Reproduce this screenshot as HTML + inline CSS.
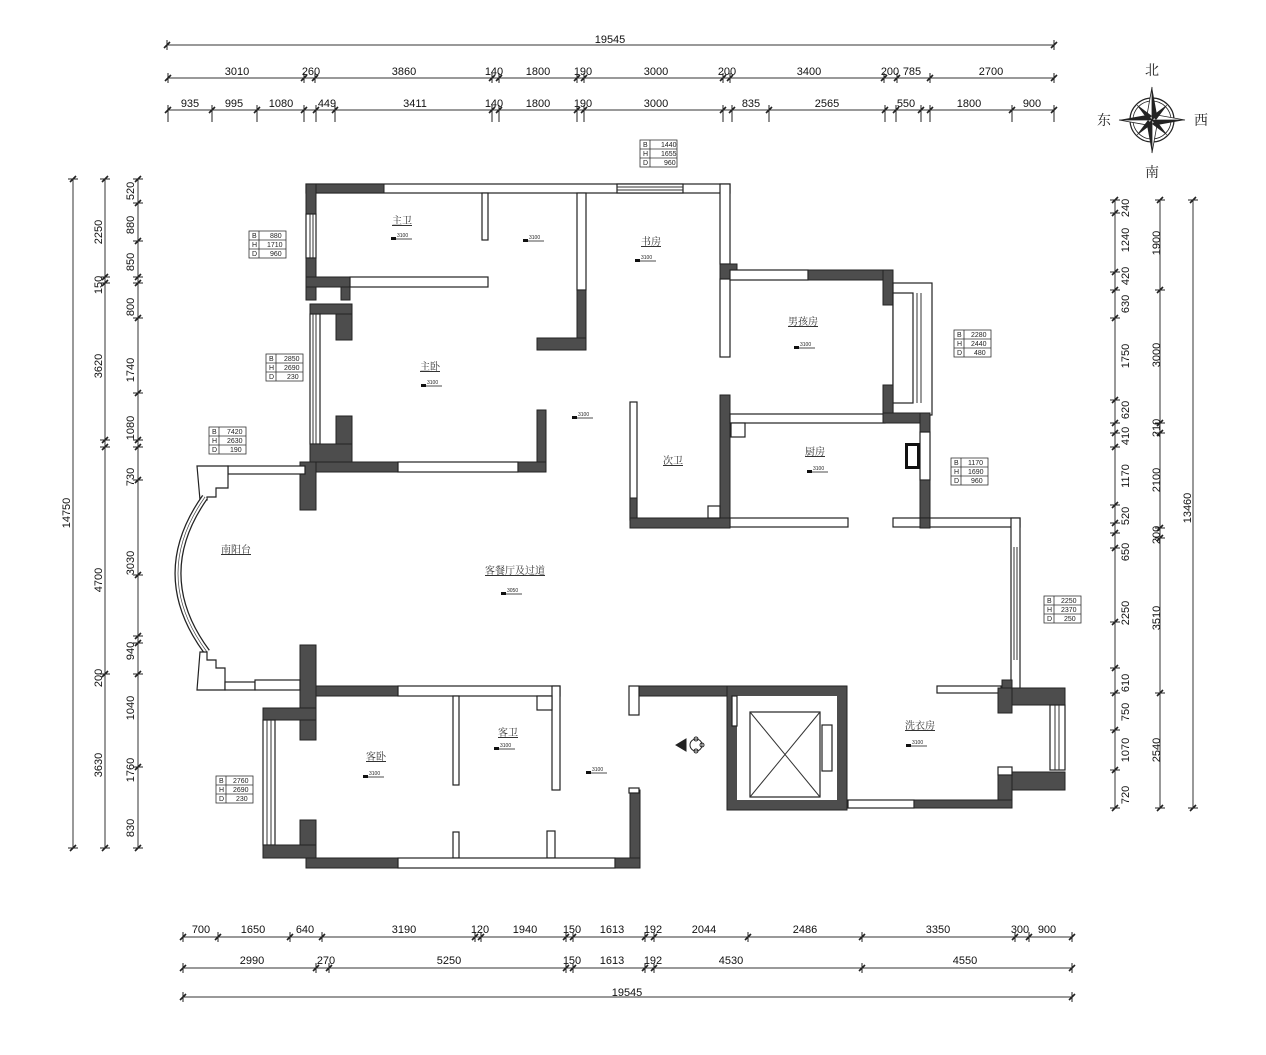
<!DOCTYPE html>
<html><head><meta charset="utf-8"><style>
html,body{margin:0;padding:0;background:#fff;}
svg{display:block}
.d{font-family:"Liberation Sans Narrow","Liberation Sans",sans-serif;font-size:11px;fill:#111;text-anchor:middle}
.r{font-family:"Liberation Serif","Noto Serif CJK SC",serif;font-size:10px;fill:#333;text-anchor:middle;text-decoration:underline}
.e{font-family:"Liberation Sans",sans-serif;font-size:5px;fill:#222}
.t{font-family:"Liberation Sans",sans-serif;font-size:7px;fill:#222}
.w{fill:#fff;stroke:#222;stroke-width:1.2}
.k{fill:#4d4d4d;stroke:#222;stroke-width:1}
.ln{stroke:#333;stroke-width:1;fill:none}
</style></head><body>
<svg id="s" width="1266" height="1055" viewBox="0 0 1266 1055" xmlns="http://www.w3.org/2000/svg">
<g id="dims" class="ln">
<line x1="167" y1="45" x2="1054" y2="45"/>
<line x1="167" y1="78" x2="1054" y2="78"/>
<line x1="167" y1="110" x2="1054" y2="110"/>
<line x1="183" y1="937" x2="1072" y2="937"/>
<line x1="183" y1="968" x2="1072" y2="968"/>
<line x1="183" y1="997" x2="1072" y2="997"/>
<line x1="73" y1="179" x2="73" y2="848"/>
<line x1="105" y1="179" x2="105" y2="848"/>
<line x1="138" y1="179" x2="138" y2="848"/>
<line x1="1115" y1="200" x2="1115" y2="808"/>
<line x1="1160" y1="200" x2="1160" y2="808"/>
<line x1="1193" y1="200" x2="1193" y2="808"/>
</g>
<g class="d">
<text x="610" y="43">19545</text>
<text x="237" y="75">3010</text><text x="311" y="75">260</text><text x="404" y="75">3860</text><text x="494" y="75">140</text><text x="538" y="75">1800</text><text x="583" y="75">190</text><text x="656" y="75">3000</text><text x="727" y="75">200</text><text x="809" y="75">3400</text><text x="890" y="75">200</text><text x="912" y="75">785</text><text x="991" y="75">2700</text>
<text x="190" y="107">935</text><text x="234" y="107">995</text><text x="281" y="107">1080</text><text x="327" y="107">449</text><text x="415" y="107">3411</text><text x="494" y="107">140</text><text x="538" y="107">1800</text><text x="583" y="107">190</text><text x="656" y="107">3000</text><text x="751" y="107">835</text><text x="827" y="107">2565</text><text x="906" y="107">550</text><text x="969" y="107">1800</text><text x="1032" y="107">900</text>
<text x="201" y="933">700</text><text x="253" y="933">1650</text><text x="305" y="933">640</text><text x="404" y="933">3190</text><text x="480" y="933">120</text><text x="525" y="933">1940</text><text x="572" y="933">150</text><text x="612" y="933">1613</text><text x="653" y="933">192</text><text x="704" y="933">2044</text><text x="805" y="933">2486</text><text x="938" y="933">3350</text><text x="1020" y="933">300</text><text x="1047" y="933">900</text>
<text x="252" y="964">2990</text><text x="326" y="964">270</text><text x="449" y="964">5250</text><text x="572" y="964">150</text><text x="612" y="964">1613</text><text x="653" y="964">192</text><text x="731" y="964">4530</text><text x="965" y="964">4550</text>
<text x="627" y="996">19545</text>
<g transform="rotate(-90)">
<text x="-513" y="70">14750</text>
<text x="-232" y="102">2250</text><text x="-285" y="102">150</text><text x="-366" y="102">3620</text><text x="-580" y="102">4700</text><text x="-678" y="102">200</text><text x="-765" y="102">3630</text>
<text x="-191" y="134">520</text><text x="-225" y="134">880</text><text x="-262" y="134">850</text><text x="-307" y="134">800</text><text x="-370" y="134">1740</text><text x="-428" y="134">1080</text><text x="-477" y="134">730</text><text x="-563" y="134">3030</text><text x="-651" y="134">940</text><text x="-708" y="134">1040</text><text x="-770" y="134">1760</text><text x="-828" y="134">830</text>
<text x="-208" y="1129">240</text><text x="-240" y="1129">1240</text><text x="-276" y="1129">420</text><text x="-304" y="1129">630</text><text x="-356" y="1129">1750</text><text x="-410" y="1129">620</text><text x="-436" y="1129">410</text><text x="-476" y="1129">1170</text><text x="-516" y="1129">520</text><text x="-552" y="1129">650</text><text x="-613" y="1129">2250</text><text x="-683" y="1129">610</text><text x="-712" y="1129">750</text><text x="-750" y="1129">1070</text><text x="-795" y="1129">720</text>
<text x="-243" y="1160">1900</text><text x="-355" y="1160">3000</text><text x="-428" y="1160">210</text><text x="-480" y="1160">2100</text><text x="-535" y="1160">200</text><text x="-618" y="1160">3510</text><text x="-750" y="1160">2540</text>
<text x="-508" y="1191">13460</text>
</g>
</g>
<g id="tk"></g>

<!-- compass -->
<g transform="translate(1152,120)">
<circle r="22" fill="none" stroke="#222" stroke-width="1.2"/>
<circle r="19" fill="none" stroke="#222" stroke-width="0.8"/>
<polygon points="0,-33 5,-5 0,0" fill="#222"/><polygon points="0,-33 -5,-5 0,0" fill="#fff" stroke="#222" stroke-width=".8"/>
<polygon points="0,33 -5,5 0,0" fill="#222"/><polygon points="0,33 5,5 0,0" fill="#fff" stroke="#222" stroke-width=".8"/>
<polygon points="-33,0 -5,-5 0,0" fill="#222"/><polygon points="-33,0 -5,5 0,0" fill="#fff" stroke="#222" stroke-width=".8"/>
<polygon points="33,0 5,5 0,0" fill="#222"/><polygon points="33,0 5,-5 0,0" fill="#fff" stroke="#222" stroke-width=".8"/>
<polygon points="-16,-16 0,-4 -4,0" fill="#222"/><polygon points="16,-16 4,0 0,-4" fill="#222"/><polygon points="16,16 0,4 4,0" fill="#222"/><polygon points="-16,16 -4,0 0,4" fill="#222"/>
</g>
<g font-family="Liberation Serif,'Noto Serif CJK SC',serif" font-size="14" fill="#222" text-anchor="middle">
<text x="1152" y="75">北</text><text x="1104" y="125">东</text><text x="1201" y="125">西</text><text x="1152" y="177">南</text>
</g>

<!-- walls -->
<g>
<!-- top master wing -->
<rect class="w" x="306" y="184" width="424" height="9"/>
<rect class="k" x="306" y="184" width="78" height="9"/>
<rect class="w" x="617" y="184" width="66" height="9"/><line class="ln" x1="617" y1="187" x2="683" y2="187"/><line class="ln" x1="617" y1="190" x2="683" y2="190"/>
<rect class="k" x="306" y="184" width="10" height="30"/>
<rect class="w" x="306" y="214" width="10" height="44"/><line class="ln" x1="310" y1="214" x2="310" y2="258"/><line class="ln" x1="313" y1="214" x2="313" y2="258"/>
<rect class="k" x="306" y="258" width="10" height="42"/>
<rect class="k" x="306" y="277" width="44" height="10"/>
<rect class="w" x="350" y="277" width="138" height="10"/>
<rect class="w" x="482" y="193" width="6" height="47"/>
<rect class="w" x="577" y="193" width="9" height="97"/>
<rect class="k" x="577" y="290" width="9" height="60"/>
<rect class="k" x="537" y="338" width="49" height="12"/>
<rect class="k" x="537" y="410" width="9" height="62"/>
<rect class="k" x="341" y="287" width="9" height="13"/>
<rect class="k" x="310" y="304" width="42" height="10"/>
<rect class="w" x="310" y="314" width="10" height="130"/><line class="ln" x1="313" y1="314" x2="313" y2="444"/><line class="ln" x1="316" y1="314" x2="316" y2="444"/>
<rect class="k" x="336" y="314" width="16" height="26"/>
<rect class="k" x="336" y="416" width="16" height="46"/>
<rect class="k" x="310" y="444" width="42" height="18"/>
<rect class="k" x="306" y="462" width="92" height="10"/>
<rect class="w" x="398" y="462" width="120" height="10"/>
<rect class="k" x="518" y="462" width="28" height="10"/>
<rect class="k" x="300" y="462" width="16" height="48"/>
<!-- study right -->
<rect class="w" x="720" y="184" width="10" height="80"/>
<rect class="k" x="720" y="264" width="17" height="15"/>
<rect class="w" x="720" y="279" width="10" height="78"/>
<rect class="k" x="720" y="395" width="10" height="133"/>
<!-- boy room -->
<rect class="w" x="730" y="270" width="78" height="10"/>
<rect class="k" x="808" y="270" width="85" height="10"/>
<rect class="k" x="883" y="270" width="10" height="35"/>
<rect class="w" x="893" y="283" width="39" height="132"/>
<rect class="w" x="893" y="293" width="20" height="110"/>
<line class="ln" x1="917" y1="293" x2="917" y2="403"/><line class="ln" x1="921" y1="293" x2="921" y2="403"/>
<rect class="k" x="883" y="385" width="10" height="30"/>
<rect class="w" x="730" y="414" width="155" height="9"/>
<rect class="k" x="883" y="413" width="47" height="10"/>
<!-- kitchen -->
<rect class="w" x="731" y="423" width="14" height="14"/>
<rect class="k" x="920" y="413" width="10" height="19"/>
<rect class="w" x="920" y="432" width="10" height="48"/>
<rect class="k" x="920" y="480" width="10" height="48"/>
<rect fill="#111" x="905" y="443" width="15" height="26"/><rect fill="#fff" x="908" y="446" width="9" height="20"/>
<rect class="w" x="730" y="518" width="118" height="9"/>
<rect class="w" x="893" y="518" width="127" height="9"/>
<rect class="k" x="920" y="518" width="10" height="10"/>
<!-- 次卫 -->
<rect class="w" x="630" y="402" width="7" height="118"/>
<rect class="k" x="630" y="498" width="7" height="30"/>
<rect class="k" x="630" y="518" width="100" height="10"/>
<rect class="w" x="708" y="506" width="12" height="12"/>
<!-- right living wall -->
<rect class="w" x="1011" y="518" width="9" height="172"/>
<line class="ln" x1="1014" y1="547" x2="1014" y2="660"/><line class="ln" x1="1017" y1="547" x2="1017" y2="660"/>
<rect class="w" x="937" y="686" width="64" height="7"/>
<rect class="k" x="1002" y="680" width="10" height="10"/>
<rect class="k" x="998" y="688" width="67" height="17"/>
<rect class="k" x="998" y="688" width="14" height="25"/>
<rect class="w" x="1050" y="705" width="15" height="65"/><line class="ln" x1="1055" y1="705" x2="1055" y2="770"/><line class="ln" x1="1059" y1="705" x2="1059" y2="770"/>
<rect class="k" x="1012" y="772" width="53" height="18"/>
<rect class="w" x="998" y="767" width="14" height="8"/>
<rect class="k" x="998" y="775" width="14" height="33"/>
<rect class="w" x="848" y="800" width="66" height="8"/>
<rect class="k" x="914" y="800" width="98" height="8"/>
<!-- elevator -->
<rect class="k" x="630" y="686" width="217" height="10"/>
<rect class="k" x="727" y="686" width="120" height="124"/>
<rect fill="#fff" x="737" y="696" width="100" height="104"/>
<rect class="w" x="732" y="696" width="5" height="30"/>
<rect class="w" x="750" y="712" width="70" height="85"/>
<line class="ln" x1="750" y1="712" x2="820" y2="797"/><line class="ln" x1="820" y1="712" x2="750" y2="797"/>
<rect class="w" x="822" y="725" width="10" height="46"/>
<rect class="w" x="629" y="686" width="10" height="29"/>
<rect class="k" x="630" y="790" width="10" height="78"/>
<rect class="w" x="629" y="788" width="10" height="5"/>
<!-- bottom wing -->
<rect class="k" x="316" y="686" width="82" height="10"/>
<rect class="w" x="398" y="686" width="162" height="10"/>
<rect class="w" x="552" y="686" width="8" height="104"/>
<rect class="w" x="537" y="696" width="15" height="14"/>
<rect class="w" x="453" y="696" width="6" height="89"/>
<rect class="w" x="453" y="832" width="6" height="26"/>
<rect class="w" x="547" y="831" width="8" height="27"/>
<rect class="k" x="300" y="645" width="16" height="95"/>
<rect class="k" x="263" y="708" width="53" height="12"/>
<rect class="w" x="263" y="720" width="12" height="125"/><line class="ln" x1="267" y1="720" x2="267" y2="845"/><line class="ln" x1="271" y1="720" x2="271" y2="845"/>
<rect class="k" x="300" y="820" width="16" height="38"/>
<rect class="k" x="263" y="845" width="53" height="13"/>
<rect class="k" x="306" y="858" width="92" height="10"/>
<rect class="w" x="398" y="858" width="217" height="10"/>
<rect class="k" x="615" y="858" width="25" height="10"/>
<!-- balcony -->
<rect class="w" x="228" y="466" width="77" height="8"/>
<path class="w" d="M197 466 H228 V488 H216 V497 H207 V500 H200 Z"/>
<path d="M205 497 Q150 575 207 652" fill="none" stroke="#222" stroke-width="7"/>
<path d="M205 497 Q150 575 207 652" fill="none" stroke="#fff" stroke-width="4.5"/>
<path d="M205 497 Q150 575 207 652" fill="none" stroke="#444" stroke-width="0.7"/>
<path class="w" d="M200 652 H207 V660 H216 V668 H225 V690 H197 Z"/>
<rect class="w" x="225" y="682" width="30" height="8"/>
<rect class="w" x="255" y="680" width="45" height="10"/>
</g>

<!-- room labels -->
<g class="r">
<text x="402" y="224">主卫</text><text x="651" y="245">书房</text><text x="430" y="370">主卧</text>
<text x="803" y="325">男孩房</text><text x="815" y="455">厨房</text><text x="673" y="464">次卫</text>
<text x="236" y="553">南阳台</text><text x="515" y="574">客餐厅及过道</text>
<text x="376" y="760">客卧</text><text x="508" y="736">客卫</text><text x="920" y="729">洗衣房</text>
</g>
<g id="el"></g>

<!-- info tables -->
<g id="tb"></g>
<g class="t">
<text x="643" y="147">B</text><text x="661" y="147">1440</text><text x="643" y="156">H</text><text x="661" y="156">1655</text><text x="643" y="165">D</text><text x="664" y="165">960</text>
<text x="252" y="238">B</text><text x="270" y="238">880</text><text x="252" y="247">H</text><text x="267" y="247">1710</text><text x="252" y="256">D</text><text x="270" y="256">960</text>
<text x="269" y="361">B</text><text x="284" y="361">2850</text><text x="269" y="370">H</text><text x="284" y="370">2690</text><text x="269" y="379">D</text><text x="287" y="379">230</text>
<text x="212" y="434">B</text><text x="227" y="434">7420</text><text x="212" y="443">H</text><text x="227" y="443">2630</text><text x="212" y="452">D</text><text x="230" y="452">190</text>
<text x="957" y="337">B</text><text x="971" y="337">2280</text><text x="957" y="346">H</text><text x="971" y="346">2440</text><text x="957" y="355">D</text><text x="974" y="355">480</text>
<text x="954" y="465">B</text><text x="968" y="465">1170</text><text x="954" y="474">H</text><text x="968" y="474">1690</text><text x="954" y="483">D</text><text x="971" y="483">960</text>
<text x="1047" y="603">B</text><text x="1061" y="603">2250</text><text x="1047" y="612">H</text><text x="1061" y="612">2370</text><text x="1047" y="621">D</text><text x="1064" y="621">250</text>
<text x="219" y="783">B</text><text x="233" y="783">2760</text><text x="219" y="792">H</text><text x="233" y="792">2690</text><text x="219" y="801">D</text><text x="236" y="801">230</text>
</g>
<g class="e">
<text x="397" y="237">3100</text><text x="529" y="239">3100</text><text x="641" y="259">3100</text><text x="427" y="384">3100</text><text x="578" y="416">3100</text>
<text x="800" y="346">3100</text><text x="813" y="470">3100</text><text x="507" y="592">3050</text><text x="369" y="775">3100</text>
<text x="500" y="747">3100</text><text x="592" y="771">3100</text><text x="912" y="744">3100</text>
</g>
<!-- entrance symbol -->
<g transform="translate(690,745)" stroke="#222" fill="none">
<polygon points="-14,0 -4,-6 -4,6" fill="#222"/><circle cx="6" cy="0" r="6"/><circle cx="6" cy="-6" r="2"/><circle cx="6" cy="6" r="2"/><circle cx="12" cy="0" r="2"/>
</g>
</svg>
<script>
var ns="http://www.w3.org/2000/svg",tk=document.getElementById('tk');
function L(a,b,c,d,w){var l=document.createElementNS(ns,'line');l.setAttribute('x1',a);l.setAttribute('y1',b);l.setAttribute('x2',c);l.setAttribute('y2',d);l.setAttribute('stroke','#222');l.setAttribute('stroke-width',w||1);tk.appendChild(l);}
function H(y,xs,ext){xs.forEach(function(x){L(x,y-5,x,y+(ext||5));L(x-3,y+3,x+3,y-3,1.6);});}
function V(x,ys){ys.forEach(function(y){L(x-5,y,x+5,y);L(x-3,y+3,x+3,y-3,1.6);});}
H(45,[167,1054]);
H(78,[168,304,315,492,499,577,584,723,730,884,897,930,1054]);
H(110,[168,212,257,304,316,335,492,499,577,584,723,732,769,885,896,921,930,1012,1054],12);
H(937,[183,218,290,322,475,481,566,573,645,654,748,862,1015,1029,1072]);
H(968,[183,316,329,566,573,645,654,862,1072]);
H(997,[183,1072]);
V(73,[179,848]);V(105,[179,277,283,440,447,674,848]);
V(138,[179,203,241,277,283,318,393,440,447,480,575,636,643,674,767,848]);
V(1115,[200,213,272,290,318,400,423,433,447,505,523,533,548,622,668,693,730,770,808]);
V(1160,[200,290,423,433,528,538,693,808]);V(1193,[200,808]);
var tb=document.getElementById('tb');
[[640,140],[249,231],[266,354],[209,427],[954,330],[951,458],[1044,596],[216,776]].forEach(function(p){
 var g='<rect x="'+p[0]+'" y="'+p[1]+'" width="37" height="27" fill="none" stroke="#333" stroke-width=".8"/><line x1="'+p[0]+'" y1="'+(p[1]+9)+'" x2="'+(p[0]+37)+'" y2="'+(p[1]+9)+'" stroke="#333" stroke-width=".8"/><line x1="'+p[0]+'" y1="'+(p[1]+18)+'" x2="'+(p[0]+37)+'" y2="'+(p[1]+18)+'" stroke="#333" stroke-width=".8"/><line x1="'+(p[0]+10)+'" y1="'+p[1]+'" x2="'+(p[0]+10)+'" y2="'+(p[1]+27)+'" stroke="#333" stroke-width=".8"/>';
 tb.insertAdjacentHTML('beforeend',g);});
var el=document.getElementById('el');
[[395,239],[527,241],[639,261],[425,386],[576,418],[798,348],[811,472],[505,594],[367,777],[498,749],[590,773],[910,746]].forEach(function(p){
 el.insertAdjacentHTML('beforeend','<rect x="'+(p[0]-4)+'" y="'+(p[1]-2)+'" width="5" height="3" fill="#111"/><line x1="'+(p[0]-4)+'" y1="'+p[1]+'" x2="'+(p[0]+17)+'" y2="'+p[1]+'" stroke="#111" stroke-width=".8"/>');});
</script>
</body></html>
